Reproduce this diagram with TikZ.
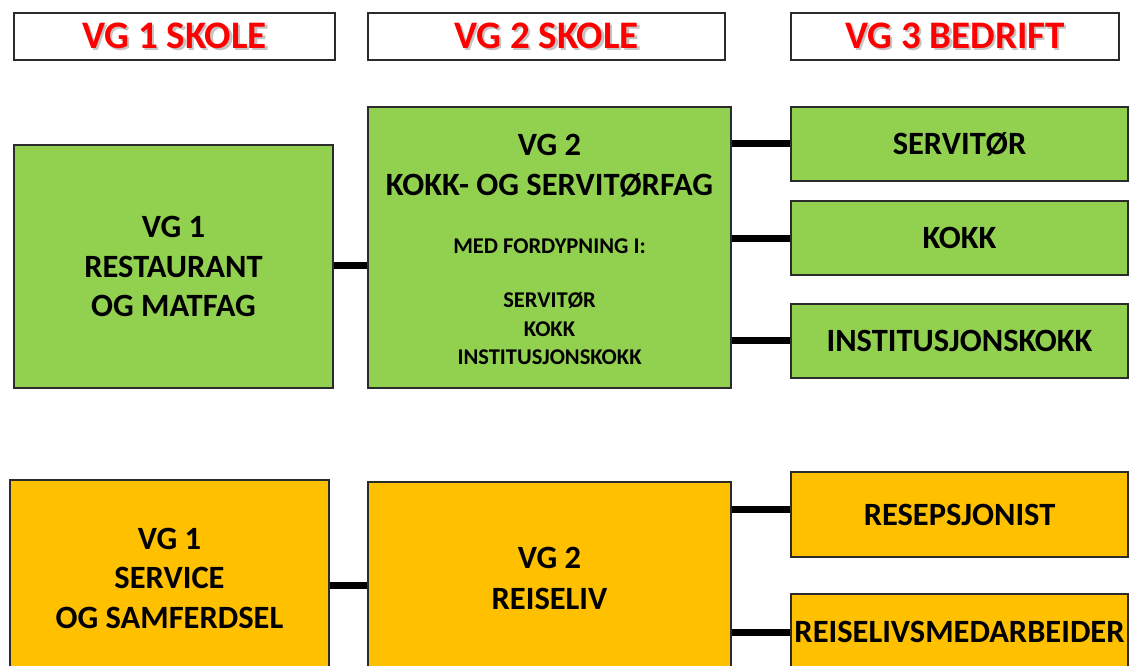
\documentclass[tikz,border=0pt]{standalone}
\usepackage{fontspec}
\setmainfont{Carlito}
\usetikzlibrary{calc}
\definecolor{vgreen}{HTML}{92D050}
\definecolor{vorange}{HTML}{FFC000}
\definecolor{vred}{HTML}{FF0000}
\definecolor{vborder}{HTML}{2B2B2B}
\definecolor{shadowgray}{HTML}{C4C4C4}
\newcommand\shtext[1]{\makebox[0pt][l]{\kern2.2pt\raisebox{-2.2pt}{\textcolor{shadowgray}{#1}}}#1}
\begin{document}
\begin{tikzpicture}[x=1pt,y=-1pt,
  box/.style={draw=vborder,line width=1.5pt,inner sep=0pt,align=center,
    font=\fontsize{32.5}{39.5}\selectfont\bfseries},
  hdr/.style={box,fill=white,minimum height=47pt,text=vred,
    font=\fontsize{39}{46}\selectfont\bfseries},
  gbox/.style={box,fill=vgreen},
  obox/.style={box,fill=vorange},
  txt/.style={inner sep=0pt,align=center},
  conn/.style={line width=7pt,black}]
\clip (0,0) rectangle (1129,666);
% headers
\node[hdr,minimum width=321pt] (h1) at (174.5,36.5) {\shtext{VG 1 SKOLE}};
\node[hdr,minimum width=357pt] (h2) at (546.5,36.5) {\shtext{VG 2 SKOLE}};
\node[hdr,minimum width=328pt] (h3) at (955,36.5) {\shtext{VG 3 BEDRIFT}};
% green row
\node[gbox,minimum width=319pt,minimum height=243pt] (g1) at (173.5,266.5) {VG 1\\RESTAURANT\\OG MATFAG};
\node[gbox,minimum width=363pt,minimum height=281pt] (g2) at (549.5,247.5) {};
\node[txt,font=\fontsize{32.5}{40}\selectfont\bfseries] (g2a) at (549.5,166) {VG 2\\KOKK- OG SERVITØRFAG};
\node[txt,font=\fontsize{22.5}{28.5}\selectfont\bfseries] (g2b) at (549.5,246) {MED FORDYPNING I:};
\node[txt,font=\fontsize{22.5}{28.5}\selectfont\bfseries] (g2c) at (549.5,328.5) {SERVITØR\\KOKK\\INSTITUSJONSKOKK};
\node[gbox,minimum width=337pt,minimum height=74pt] (s1) at (959.5,144) {SERVITØR};
\node[gbox,minimum width=337pt,minimum height=74pt] (s2) at (959.5,238) {KOKK};
\node[gbox,minimum width=337pt,minimum height=74pt] (s3) at (959.5,341) {INSTITUSJONSKOKK};
% orange row
\node[obox,minimum width=319pt,minimum height=196pt] (o1) at (169.5,578) {VG 1\\SERVICE\\OG SAMFERDSEL};
\node[obox,minimum width=363pt,minimum height=193pt] (o2) at (549.5,578.5) {VG 2\\[1.5pt]REISELIV};
\node[obox,minimum width=337pt,minimum height=85pt] (r1) at (959.5,514.5) {RESEPSJONIST};
\node[obox,minimum width=337pt,minimum height=76pt] (r2) at (959.5,632) {REISELIVSMEDARBEIDER};
% connectors
\draw[conn] ([yshift=1.5pt]g1.east) -- ([yshift=1.5pt]g1.east -| g2.west);
\draw[conn] ([yshift=1pt]s1.west -| g2.east) -- ([yshift=1pt]s1.west);
\draw[conn] (s2.west -| g2.east) -- (s2.west);
\draw[conn] ([yshift=1pt]s3.west -| g2.east) -- ([yshift=1pt]s3.west);
\draw[conn] ([yshift=-7pt]o1.east) -- ([yshift=-7pt]o1.east -| o2.west);
\draw[conn] ([yshift=5.5pt]r1.west -| o2.east) -- ([yshift=5.5pt]r1.west);
\draw[conn] (r2.west -| o2.east) -- (r2.west);
\end{tikzpicture}
\end{document}
